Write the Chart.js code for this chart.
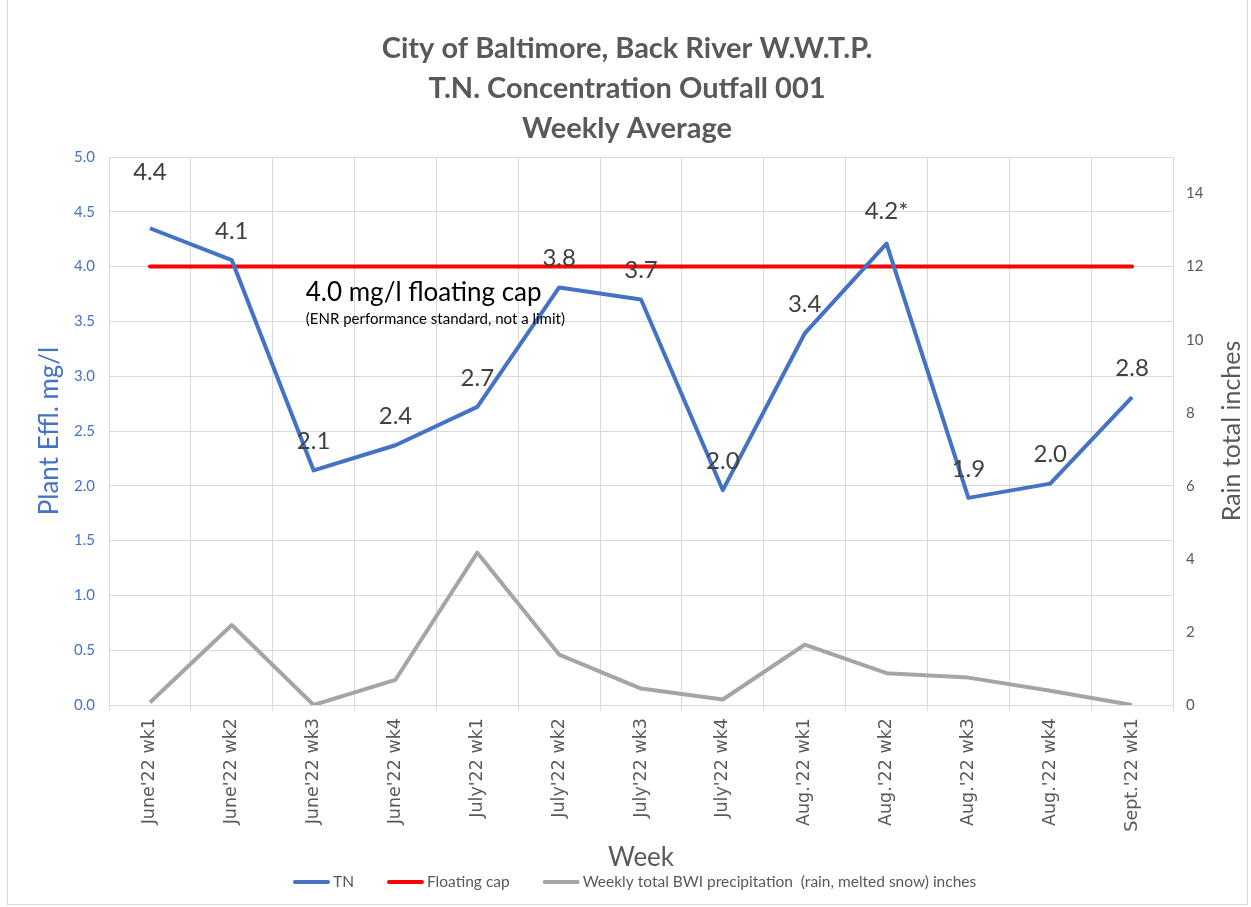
<!DOCTYPE html>
<html>
<head>
<meta charset="utf-8">
<script src="https://cdn.jsdelivr.net/npm/chart.js@4.4.0/dist/chart.umd.min.js"></script>
<style>
html, body { margin: 0; padding: 0; background: #fff; }
#wrap { position: relative; width: 1251px; height: 907px; }
#frame { position: absolute; left: 7px; top: 0; width: 1239px; height: 904px; border: 1px solid #d9d9d9; border-top: none; pointer-events: none; }
</style>
</head>
<body>
<div id="wrap">
  <canvas id="chart" width="1251" height="907"></canvas>
  <div id="frame"></div>
</div>
<script>
// weekly data
const weeks = ["June'22 wk1", "June'22 wk2", "June'22 wk3", "June'22 wk4",
  "July'22 wk1", "July'22 wk2", "July'22 wk3", "July'22 wk4",
  "Aug.'22 wk1", "Aug.'22 wk2", "Aug.'22 wk3", "Aug.'22 wk4", "Sept.'22 wk1"];
const tn = [4.35, 4.06, 2.14, 2.37, 2.72, 3.81, 3.70, 1.96, 3.39, 4.21, 1.89, 2.02, 2.81];
const tnLabels = ["4.4", "4.1", "2.1", "2.4", "2.7", "3.8", "3.7", "2.0", "3.4", "4.2*", "1.9", "2.0", "2.8"];
const cap = [4, 4, 4, 4, 4, 4, 4, 4, 4, 4, 4, 4, 4];
const rain = [0.07, 2.19, 0.0, 0.69, 4.17, 1.38, 0.45, 0.15, 1.65, 0.87, 0.75, 0.39, 0.0];

const titleLines = ["City of Baltimore, Back River W.W.T.P.", "T.N. Concentration Outfall 001", "Weekly Average"];
const seriesNames = ["TN", "Floating cap", "Weekly total BWI precipitation  (rain, melted snow) inches"];
const seriesColors = ["#4472C4", "#FF0000", "#A5A5A5"];

const FONT = 'Lato, "Open Sans", sans-serif';

const extras = {
  id: 'extras',
  afterDraw(chart) {
    const ctx = chart.ctx;
    const a = chart.chartArea;
    const xs = chart.scales.x, ys = chart.scales.y;
    ctx.save();
    ctx.textAlign = 'center';
    ctx.textBaseline = 'middle';

    // title
    ctx.fillStyle = '#595959';
    ctx.font = 'bold 29px ' + FONT;
    titleLines.forEach((t, i) => ctx.fillText(t, 627, 49 + i * 40));

    // axis titles
    ctx.font = '26px ' + FONT;
    ctx.fillText('Week', 641, 858);
    ctx.font = '25px ' + FONT;
    ctx.save();
    ctx.translate(1232, (a.top + a.bottom) / 2);
    ctx.rotate(-Math.PI / 2);
    ctx.fillText('Rain total inches', 0, 0);
    ctx.restore();
    ctx.save();
    ctx.fillStyle = '#4472C4';
    ctx.font = '26px ' + FONT;
    ctx.translate(50, (a.top + a.bottom) / 2);
    ctx.rotate(-Math.PI / 2);
    ctx.fillText('Plant Effl. mg/l', 0, 0);
    ctx.restore();

    // cap annotation
    ctx.textAlign = 'left';
    ctx.fillStyle = '#000';
    const ax = xs.getPixelForValue(1) + 74;
    const ay = ys.getPixelForValue(4) + 26;
    ctx.font = '26px ' + FONT;
    ctx.fillText('4.0 mg/l floating cap', ax, ay);
    ctx.font = '15px ' + FONT;
    ctx.fillText('(ENR performance standard, not a limit)', ax, ay + 27);

    // data labels on TN
    ctx.textAlign = 'center';
    ctx.fillStyle = '#404040';
    ctx.font = '24px ' + FONT;
    const lift = {0: 56, 9: 32};
    chart.getDatasetMeta(0).data.forEach((p, i) => {
      ctx.fillText(tnLabels[i], p.x, p.y - (lift[i] || 29));
    });

    // legend
    ctx.font = '15.5px ' + FONT;
    ctx.textAlign = 'left';
    let lx = 293;
    const ly = 882;
    seriesNames.forEach((name, i) => {
      ctx.strokeStyle = seriesColors[i];
      ctx.lineWidth = 4;
      ctx.lineCap = 'round';
      ctx.beginPath();
      ctx.moveTo(lx + 2, ly);
      ctx.lineTo(lx + 35, ly);
      ctx.stroke();
      ctx.fillStyle = '#595959';
      ctx.fillText(name, lx + 40, ly);
      lx += 40 + ctx.measureText(name).width + 33;
    });
    ctx.restore();
  }
};

const ctx = document.getElementById('chart').getContext('2d');
new Chart(ctx, {
  type: 'line',
  data: {
    labels: weeks,
    datasets: [
      { label: seriesNames[0], data: tn, borderColor: seriesColors[0], borderWidth: 4, pointRadius: 0, yAxisID: 'y', borderJoinStyle: 'round' },
      { label: seriesNames[1], data: cap, borderColor: seriesColors[1], borderWidth: 4, pointRadius: 0, yAxisID: 'y', borderCapStyle: 'round' },
      { label: seriesNames[2], data: rain, borderColor: seriesColors[2], borderWidth: 4, pointRadius: 0, yAxisID: 'y1', borderJoinStyle: 'round' }
    ]
  },
  options: {
    responsive: false,
    animation: false,
    devicePixelRatio: 1,
    layout: { padding: { top: 157, left: 0, right: 0, bottom: 0 } },
    plugins: { legend: { display: false }, title: { display: false }, tooltip: { enabled: false } },
    scales: {
      x: {
        offset: true,
        grid: { offset: true, color: '#d9d9d9', tickColor: '#d9d9d9', tickLength: 6 },
        border: { color: '#d9d9d9' },
        ticks: { minRotation: 90, maxRotation: 90, autoSkip: false, padding: 7, color: '#595959', font: { size: 17.5, family: '"DejaVu Sans", sans-serif' } },
        afterFit(s) { s.height = 202; }
      },
      y: {
        position: 'left', min: 0, max: 5,
        grid: { color: '#d9d9d9', drawTicks: false },
        border: { display: false },
        ticks: { stepSize: 0.5, padding: 14, color: '#4472C4', font: { size: 15, family: FONT }, callback: v => v.toFixed(1) },
        afterFit(s) { s.width = 109; }
      },
      y1: {
        position: 'right', min: 0, max: 15,
        grid: { display: false, drawTicks: false },
        border: { display: false },
        ticks: { stepSize: 2, padding: 13, color: '#595959', font: { size: 15, family: FONT }, callback: v => (v % 2 === 0 ? v : '') },
        afterFit(s) { s.width = 78; }
      }
    }
  },
  plugins: [extras]
});
</script>
</body>
</html>
